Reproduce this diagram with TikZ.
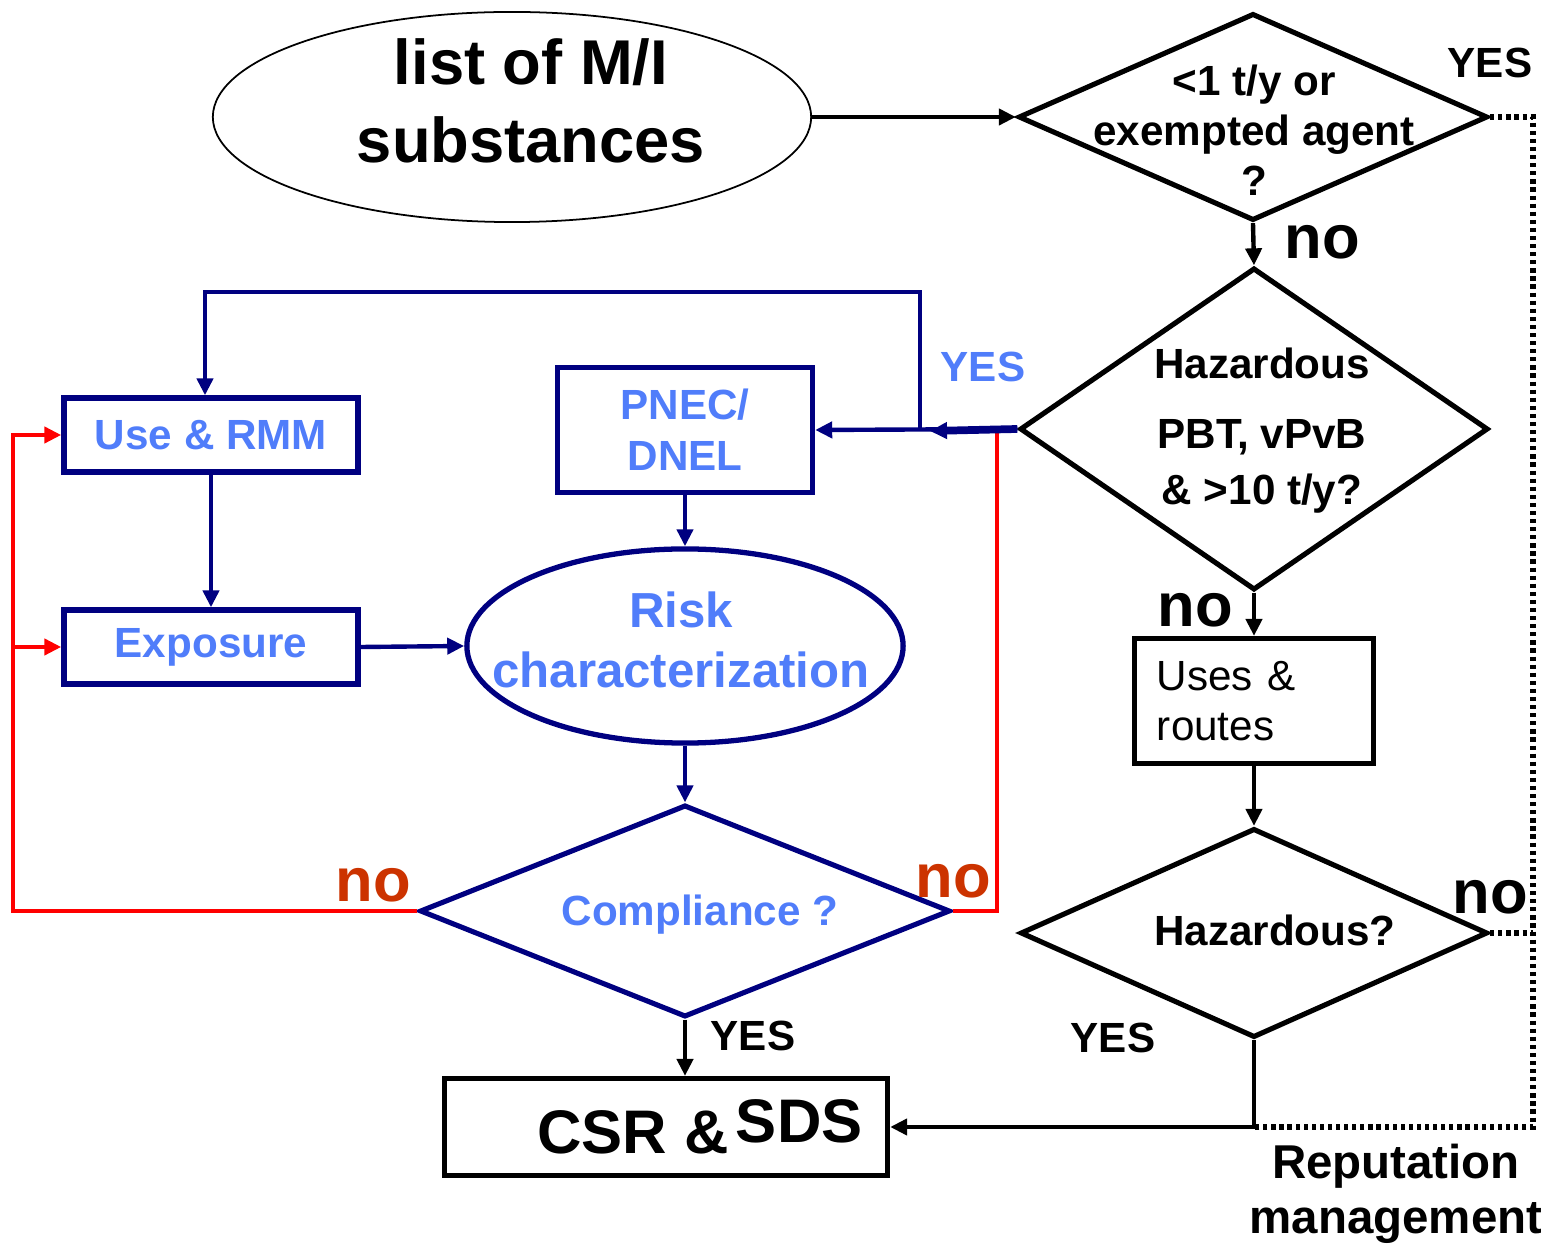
\documentclass[tikz,border=0pt]{standalone}
\usepackage{fontspec}
\setmainfont{Liberation Sans}
\usetikzlibrary{shapes.geometric,arrows.meta}
\definecolor{navy}{RGB}{0,0,128}
\definecolor{lblue}{RGB}{80,125,250}
\definecolor{norange}{RGB}{204,51,0}
\definecolor{redl}{RGB}{255,0,0}
\begin{document}
\begin{tikzpicture}[x=0.01cm,y=-0.01cm,line width=1.25pt,
    >={Triangle[length=1.7mm,width=1.6mm]},
    lbl/.style={inner sep=0pt,font=\bfseries\fontsize{12}{14.2}\selectfont},
    bigno/.style={inner sep=0pt,font=\bfseries\fontsize{17.5}{20}\selectfont},
    decide/.style={draw,diamond,inner sep=0pt,line width=1.45pt},
    bluebox/.style={draw=navy,rectangle,inner sep=0pt,line width=1.5pt,text=lblue,
        font=\bfseries\fontsize{12}{14.5}\selectfont,align=center},
    nv/.style={color=navy,->},
    rd/.style={color=redl,->},
    dotline/.style={line width=1.5pt,dash pattern=on 1.2pt off 1.1pt}
  ]
  \useasboundingbox (0,0) rectangle (1541,1249);

  % right column
  \node[draw,ellipse,line width=0.5pt,inner sep=0pt,minimum width=5.98cm,minimum height=2.1cm] (list) at (512,117) {};
  \node[inner sep=0pt,align=center,font=\bfseries\fontsize{18}{22.2}\selectfont] (listtxt) at (531,101) {list of M/I\\substances};
  \node[decide,minimum width=4.69cm,minimum height=2.07cm] (q1) at (1253,117) {};
  \node[lbl,align=center] (q1txt) at (1254,130) {<1 t/y or\\exempted agent\\?};
  \node[decide,minimum width=4.68cm,minimum height=3.22cm] (q2) at (1254,429) {};
  \node[lbl,align=center,font=\bfseries\fontsize{12}{15.9}\selectfont] (q2txt) at (1262,431) {Hazardous\\[4pt]PBT, vPvB\\\& >10 t/y?};
  \node[draw,rectangle,line width=1.45pt,inner xsep=0.22cm,inner ysep=0pt,text width=1.94cm,minimum height=1.25cm,
      align=left,font=\fontsize{12}{14.2}\selectfont] (uses) at (1254,701) {Uses \&\\routes};
  \node[decide,minimum width=4.67cm,minimum height=2.09cm] (q3) at (1254,933) {};
  \node[lbl] (q3txt) at (1275,930) {Hazardous?};
  \node[draw,rectangle,line width=1.45pt,minimum width=4.43cm,minimum height=0.97cm] (csr) at (666,1127) {};
  \node[bigno] (csrtxt) at (700,1127) {CSR \&\hspace{2pt}\raisebox{3pt}{SDS}};

  % left part
  \node[bluebox,minimum width=2.55cm,minimum height=1.25cm] (pnec) at (685,430) {PNEC/\\DNEL};
  \node[bluebox,minimum width=2.94cm,minimum height=0.74cm] (use) at (211,435) {Use \& RMM};
  \node[bluebox,minimum width=2.94cm,minimum height=0.74cm] (expo) at (211,647) {Exposure};
  \node[draw=navy,ellipse,line width=1.5pt,inner sep=0pt,minimum width=4.36cm,minimum height=1.94cm] (risk) at (685,646) {};
  \node[inner sep=0pt,align=center,text=lblue,font=\bfseries\fontsize{14}{17}\selectfont] (risktxt) at (681,640) {Risk\\characterization};
  \node[draw=navy,diamond,line width=1.45pt,inner sep=0pt,minimum width=5.3cm,minimum height=2.12cm] (comp) at (685,911) {};
  \node[lbl,text=lblue] (comptxt) at (700,915) {Compliance ?};

  % answers
  \node[lbl] (yes1) at (1490,63) {YES};
  \node[bigno] (no1) at (1322,242) {no};
  \node[bigno] (no2) at (1195,610) {no};
  \node[bigno] (no3) at (1490,897) {no};
  \node[lbl] (yes3) at (1113,1038) {YES};
  \node[lbl] (yes4) at (753,1036) {YES};
  \node[lbl,text=lblue] (yes2) at (983,367) {YES};
  \node[bigno,text=norange] (no4) at (373,885) {no};
  \node[bigno,text=norange] (no5) at (953,881) {no};
  \node[inner sep=0pt,align=center,font=\bfseries\fontsize{13.5}{15.6}\selectfont] (rep) at (1396,1194) {Reputation\\management};

  \coordinate (yesjoin) at (920,431);
  \coordinate (looptop) at (920,292);
  \coordinate (yesmid) at (930,431);
  \coordinate (redtop) at (997,431);
  \coordinate (redcorner) at (13,911);
  \coordinate (dotcorner) at (1533,1127);

  \draw[->] (list.east) -- (q1.west);
  \draw[->] (q1.south) -- (q2.north);
  \draw[->] (q2.south) -- (uses.north);
  \draw[->] (uses.south) -- (q3.north);
  \draw[->] (q3.south) |- (csr.east);
  \draw[->] (comp.south) -- (comp.south |- csr.north);
  \draw[dotline] (q1.east) -| (dotcorner) -- (dotcorner -| q3.south);
  \draw[dotline] (q3.east) -- (q3.east -| dotcorner);

  \draw[rd] (comp.west) -- (redcorner) |- (use.west);
  \draw[rd] (redcorner |- expo.west) -- (expo.west);
  \draw[redl] (comp.east) -| (redtop);

  \draw[nv] (q2.west) -- (pnec.east);
  \draw[nv,line width=2.2pt] (q2.west) -- (yesmid);
  \draw[nv] (yesjoin) -- (looptop) -| ([xshift=-0.06cm]use.north);
  \draw[nv] (pnec.south) -- (risk.north);
  \draw[nv] (use.south) -- (expo.north);
  \draw[nv] (expo.east) -- (risk.west);
  \draw[nv] (risk.south) -- (comp.north);
\end{tikzpicture}
\end{document}
